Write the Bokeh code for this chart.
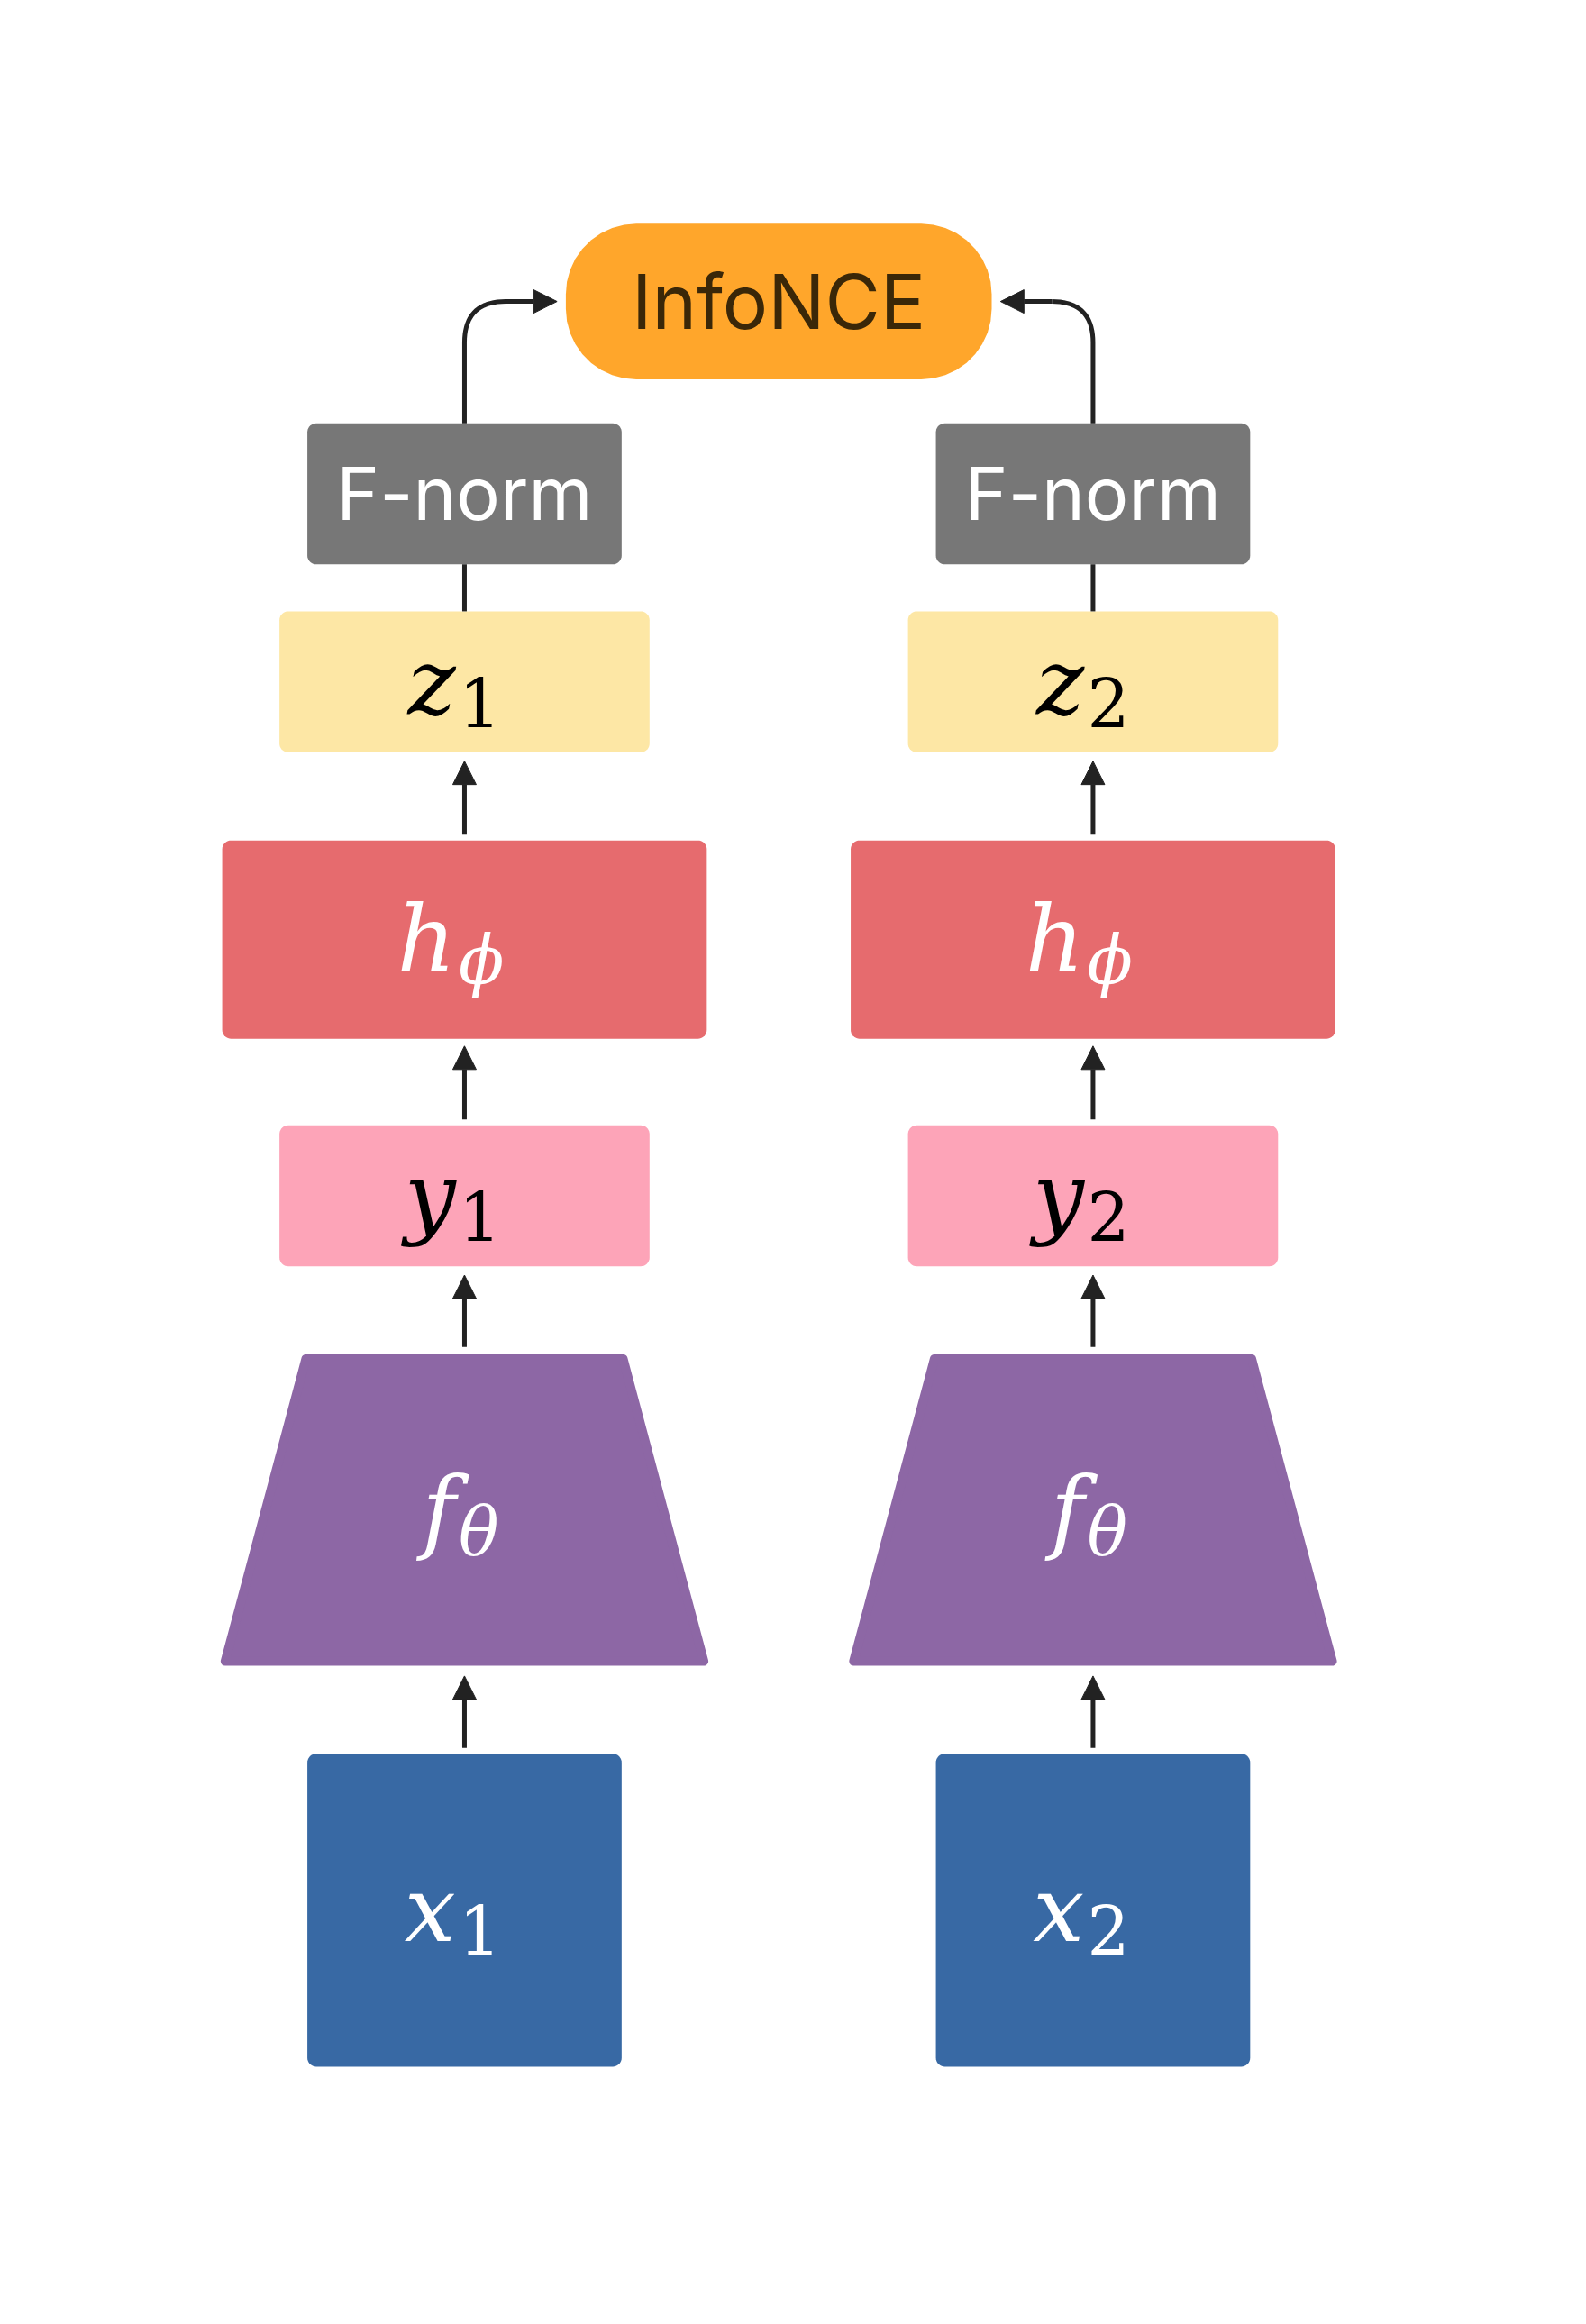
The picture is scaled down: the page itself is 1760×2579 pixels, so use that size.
import numpy as np
from bokeh.plotting import figure
from bokeh.models import Range1d, Arrow, NormalHead
from bokeh.core.properties import value
from bokeh.embed import file_html
from bokeh.resources import INLINE

# column centres (diagram units)
columns = [321, 749]
# stage boxes: name, half width, top, bottom, colour, corner radius
stages = [
    ("fnorm", 107, 293, 389, "#777777", 6),
    ("z", 126, 421, 517, "#FDE7A5", 6),
    ("h", 165, 577, 712, "#E66B6E", 6),
    ("y", 126, 771, 867, "#FDA4B8", 6),
    ("x", 107, 1199, 1412, "#3869A4", 6),
]
trap_top, trap_bottom, trap_half_top, trap_half_bottom = 930, 1136, 108, 163
trap_color = "#8D67A5"
loss_box = (390, 680, 157, 263)
loss_color = "#FFA62B"
math_main = {"z": "z", "h": "h", "y": "y", "x": "x", "f": "f"}
math_sub = {"z": ["1", "2"], "h": ["ϕ", "ϕ"], "y": ["1", "2"], "x": ["1", "2"], "f": ["θ", "θ"]}
math_y = {"z": 469, "h": 644, "y": 819, "x": 1305, "f": 1033}
math_col = {"z": "black", "h": "white", "y": "black", "x": "white", "f": "white"}
arrows_up = [(573, 523), (767, 717), (922, 873), (1195, 1146)]

def rrect(x0, x1, y0, y1, r):
    xs, ys = [], []
    for cx, cy, a0 in [(x1 - r, y0 + r, -90), (x1 - r, y1 - r, 0), (x0 + r, y1 - r, 90), (x0 + r, y0 + r, 180)]:
        t = np.radians(np.linspace(a0, a0 + 90, 10))
        xs += list(cx + r * np.cos(t)); ys += list(cy + r * np.sin(t))
    return xs, ys

S = 1760 / 1080
p = figure(width=1744, height=2563, x_range=Range1d(5, 5 + 1744 / S), y_range=Range1d(5 + 2563 / S, 5),
           output_backend="svg", toolbar_location=None)
p.axis.visible = False
p.grid.visible = False
p.outline_line_color = None
p.min_border = 0

LW = 5
for c in columns:
    for name, hw, t, b, col, r in stages:
        xs, ys = rrect(c - hw, c + hw, t, b, r)
        p.patch(xs, ys, fill_color=col, line_color=None)
    p.patch([c - trap_half_top, c + trap_half_top, c + trap_half_bottom, c - trap_half_bottom],
            [trap_top, trap_top, trap_bottom, trap_bottom], fill_color=trap_color,
            line_color=trap_color, line_width=10, line_join="round")
    p.text([c], [341], text=["F-norm"], text_color="white", text_font=value("Inter"),
           text_font_size=f"{int(50*S)}px", text_align="center", text_baseline="middle")
    p.line([c, c], [389, 421], line_color="#222222", line_width=LW)
    for y0, y1 in arrows_up:
        p.add_layout(Arrow(end=NormalHead(size=26, fill_color="#222222", line_color="#222222"),
                           x_start=c, y_start=y0, x_end=c, y_end=y1, line_width=LW, line_color="#222222"))

for i, c in enumerate(columns):
    for k in math_main:
        p.text([c - 6], [math_y[k]], text=[math_main[k]], text_color=math_col[k],
               text_font=value("DejaVu Serif"), text_font_style="italic",
               text_font_size=f"{int(62*S)}px", text_align="right", text_baseline="middle")
        p.text([c - 4], [math_y[k] + 14], text=[math_sub[k][i]], text_color=math_col[k],
               text_font=value("DejaVu Serif"),
               text_font_style="italic" if not math_sub[k][i].isdigit() else "normal",
               text_font_size=f"{int(46*S)}px", text_align="left", text_baseline="middle")

# loss box
xs, ys = rrect(*loss_box, 48)
p.patch(xs, ys, fill_color=loss_color, line_color=None)
p.text([535], [210], text=["InfoNCE"], text_color="#3a2708", text_font=value("Inter"),
       text_font_size=f"{int(52*S)}px", text_align="center", text_baseline="middle")

# curved connectors to the loss
for c, sgn, xe in [(columns[0], 1, 384), (columns[1], -1, 686)]:
    t = np.linspace(0, 1, 20)
    bx = (1 - t) ** 2 * c + 2 * t * (1 - t) * c + t ** 2 * (c + sgn * 28)
    by = (1 - t) ** 2 * 238 + 2 * t * (1 - t) * 210 + t ** 2 * 210
    p.line([c] + list(bx), [293] + list(by), line_color="#222222", line_width=LW)
    p.add_layout(Arrow(end=NormalHead(size=26, fill_color="#222222", line_color="#222222"),
                       x_start=c + sgn * 28, y_start=210, x_end=xe, y_end=210,
                       line_width=LW, line_color="#222222"))

open("out.html", "w").write(file_html(p, INLINE))
